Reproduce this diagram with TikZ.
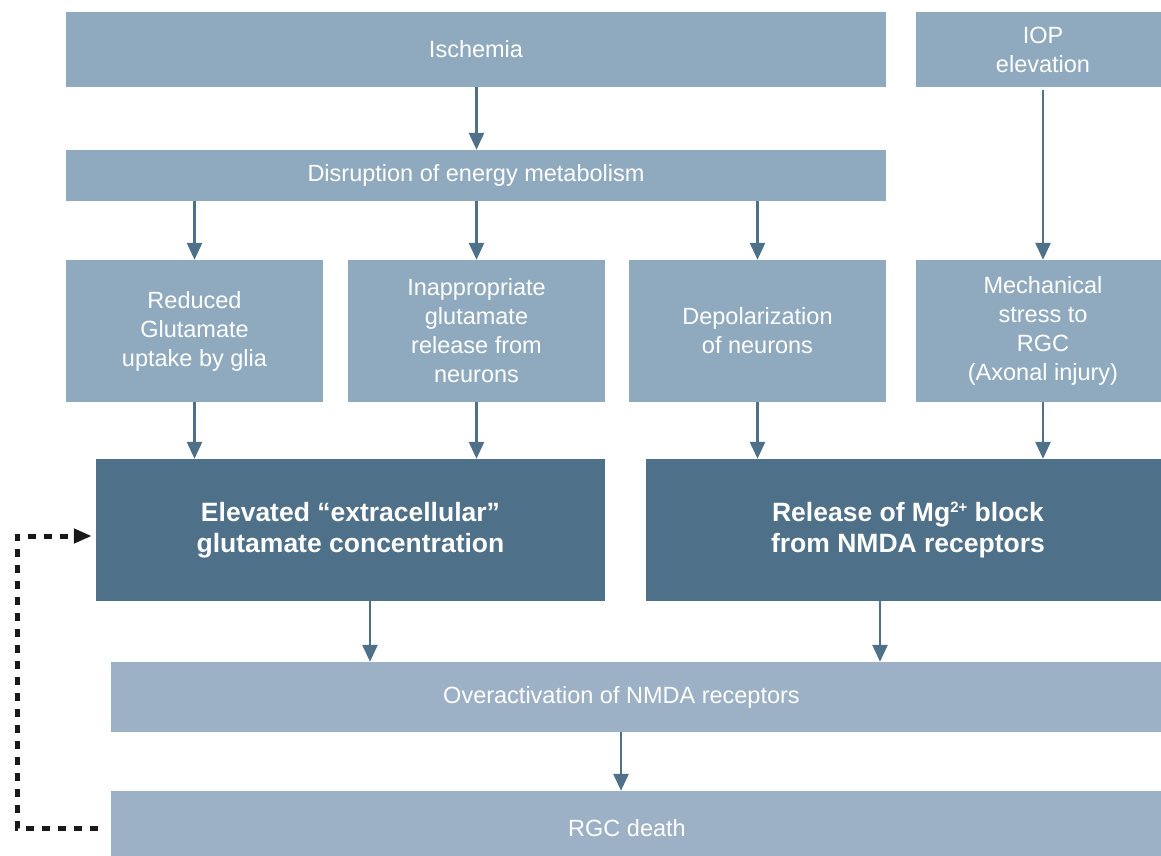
\documentclass[tikz,border=0pt]{standalone}
\usepackage{fontspec}
\setmainfont{Liberation Sans}
\usetikzlibrary{arrows.meta}
\definecolor{boxlight}{HTML}{8FAABF}
\definecolor{boxpale}{HTML}{9CB1C5}
\definecolor{boxdark}{HTML}{4E7089}
\begin{document}
\begin{tikzpicture}[x=1pt, y=-1pt,
    lbox/.style={fill=boxlight, text=white, align=center, inner sep=0pt,
      font=\fontsize{23.5pt}{29pt}\selectfont},
    pbox/.style={lbox, fill=boxpale},
    dbox/.style={lbox, fill=boxdark, font=\fontsize{26.5pt}{31.5pt}\selectfont\bfseries},
    arr/.style={draw=boxdark, line width=2.7pt, -{Triangle[width=15pt,length=17pt]}},
    fb/.style={draw=black!90, line width=5pt, dash pattern=on 8pt off 8pt,
      -{Triangle[width=14pt,length=18pt]}}]
  \useasboundingbox (0,0) rectangle (1161,856);

  \node[lbox, minimum width=820pt, minimum height=75pt] (isch) at (476,49.5) {Ischemia};
  \node[lbox, minimum width=254pt, minimum height=75pt] (iop) at (1043,49.5) {IOP\\elevation};
  \node[lbox, minimum width=820pt, minimum height=51pt] (disr) at (476,175.5) {Disruption of energy metabolism};

  \node[lbox, minimum width=257pt, minimum height=142pt] (red) at (194.5,331) {Reduced\\Glutamate\\uptake by glia};
  \node[lbox, minimum width=257pt, minimum height=142pt] (inap) at (476.5,331) {Inappropriate\\glutamate\\release from\\neurons};
  \node[lbox, minimum width=257pt, minimum height=142pt] (depol) at (757.5,331) {Depolarization\\of neurons};
  \node[lbox, minimum width=254pt, minimum height=142pt] (mech) at (1043,331) {Mechanical\\stress to\\RGC\\(Axonal injury)};

  \node[dbox, minimum width=509pt, minimum height=142pt] (elev) at (350.5,530) {Elevated “extracellular”\\glutamate concentration};
  \node[dbox, minimum width=524pt, minimum height=142pt] (rel) at (908,530) {Release of Mg\raisebox{9pt}{\fontsize{15pt}{15pt}\selectfont 2+} block\\from NMDA receptors};

  \node[pbox, minimum width=1059pt, minimum height=70pt] (over) at (640.5,697) {Overactivation of NMDA receptors\hspace*{38pt}};
  \node[pbox, minimum width=1059pt, minimum height=74pt] (rgc) at (640.5,828) {RGC death\hspace*{27pt}};

  \draw[arr] (isch.south -| inap.north) -- (disr.north -| inap.north);
  \draw[arr] ([yshift=-3pt]iop.south) -- (mech.north);
  \draw[arr] (disr.south -| red.north) -- (red.north);
  \draw[arr] (disr.south -| inap.north) -- (inap.north);
  \draw[arr] (disr.south -| depol.north) -- (depol.north);
  \draw[arr] (red.south) -- (red.south |- elev.north);
  \draw[arr] (inap.south) -- (inap.south |- elev.north);
  \draw[arr] (depol.south) -- (depol.south |- rel.north);
  \draw[arr] (mech.south) -- (mech.south |- rel.north);
  \draw[arr] ([xshift=19.5pt]elev.south) -- ([xshift=19.5pt]elev.south |- over.north);
  \draw[arr] ([xshift=-28pt]rel.south) -- ([xshift=-28pt]rel.south |- over.north);
  \draw[arr] ([xshift=-19.5pt]over.south) -- ([xshift=-19.5pt]over.south |- rgc.north);

  \coordinate (fbx) at (17,0);
  \draw[fb] ([xshift=-13pt]rgc.west) -- (rgc.west -| fbx) |- ([xshift=-4pt,yshift=-6pt]elev.west);
\end{tikzpicture}
\end{document}
